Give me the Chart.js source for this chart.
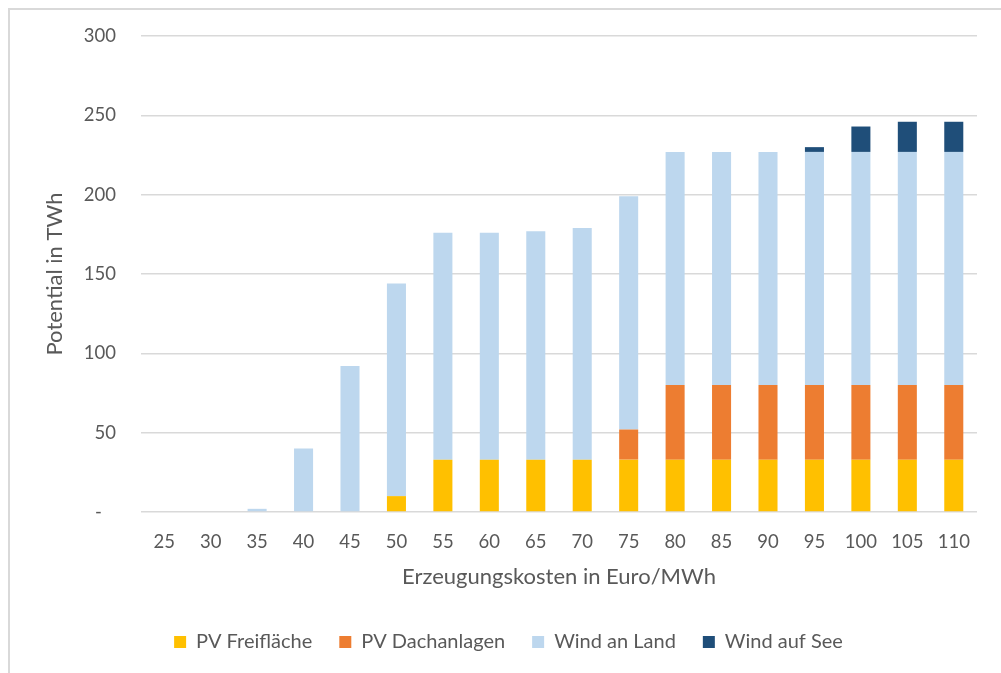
<!DOCTYPE html>
<html>
<head>
<meta charset="utf-8">
<script src="https://cdn.jsdelivr.net/npm/chart.js@4.4.1/dist/chart.umd.min.js"></script>
<style>
  html, body { margin: 0; padding: 0; background: #ffffff; overflow: hidden; }
  #wrap { position: relative; width: 1001px; height: 673px; }
  #frame { position: absolute; left: 8px; top: 8px; width: 1100px; height: 1000px;
           border: 2px solid #d9d9d9; box-sizing: border-box; }
  #chart { position: absolute; left: 0; top: 0; }
</style>
</head>
<body>
<div id="wrap">
  <div id="frame"></div>
  <canvas id="chart" width="1001" height="673"></canvas>
</div>
<script>
// Erzeugungskosten (Euro/MWh) on the category axis
const categories = ['25', '30', '35', '40', '45', '50', '55', '60', '65', '70', '75', '80', '85', '90', '95', '100', '105', '110'];

// Potential in TWh per technology
const pvFreiflaeche = [0, 0, 0, 0, 0, 10, 33, 33, 33, 33, 33, 33, 33, 33, 33, 33, 33, 33];
const pvDachanlagen = [0, 0, 0, 0, 0, 0, 0, 0, 0, 0, 19, 47, 47, 47, 47, 47, 47, 47];
const windAnLand    = [0, 0, 2, 40, 92, 134, 143, 143, 144, 146, 147, 147, 147, 147, 147, 147, 147, 147];
const windAufSee    = [0, 0, 0, 0, 0, 0, 0, 0, 0, 0, 0, 0, 0, 0, 3, 16, 19, 19];

// y-axis tick values
const yTicks = [0, 50, 100, 150, 200, 250, 300];

const seriesNames = ['PV Freifläche', 'PV Dachanlagen', 'Wind an Land', 'Wind auf See'];
const seriesColors = ['#FFC000', '#ED7D31', '#BDD7EE', '#1F4E79'];
const seriesData = [pvFreiflaeche, pvDachanlagen, windAnLand, windAufSee];

const textColor = '#595959';
const fontFamily = 'Lato, "Open Sans", sans-serif';

const datasets = seriesNames.map((name, i) => ({
  label: name,
  data: seriesData[i],
  backgroundColor: seriesColors[i],
  borderWidth: 0,
  stack: 'total',
  categoryPercentage: 1.0,
  barPercentage: 0.41
}));

new Chart(document.getElementById('chart'), {
  type: 'bar',
  data: { labels: categories, datasets },
  options: {
    responsive: false,
    animation: false,
    devicePixelRatio: 1,
    layout: { padding: { left: 40, right: 24, top: 36, bottom: 11 } },
    plugins: {
      tooltip: { enabled: false },
      legend: {
        position: 'bottom',
        labels: {
          color: textColor,
          font: { family: fontFamily, size: 20 },
          boxWidth: 12,
          boxHeight: 12,
          padding: 27
        }
      }
    },
    scales: {
      x: {
        stacked: true,
        grid: { display: false, drawTicks: false },
        border: { display: false },
        ticks: { color: textColor, font: { family: fontFamily, size: 18.5 }, padding: 19, maxRotation: 0 },
        title: {
          display: true,
          text: 'Erzeugungskosten in Euro/MWh',
          color: textColor,
          font: { family: fontFamily, size: 22 },
          padding: { top: 0, bottom: 15 }
        },
        afterFit: (s) => { s.height = 93; }
      },
      y: {
        stacked: true,
        min: 0,
        max: 300,
        afterBuildTicks: (s) => { s.ticks = yTicks.map(v => ({ value: v })); },
        grid: { color: '#d9d9d9', lineWidth: 1.5, drawTicks: false },
        border: { display: false },
        ticks: {
          color: textColor,
          font: { family: fontFamily, size: 18.5 },
          padding: 25,
          callback: (v) => (v === 0 ? '-   ' : String(v))
        },
        title: {
          display: true,
          text: 'Potential in TWh',
          color: textColor,
          font: { family: fontFamily, size: 22 },
          padding: { top: 2, bottom: 0 }
        },
        afterFit: (s) => { s.width = 101; }
      }
    }
  }
});
</script>
</body>
</html>
